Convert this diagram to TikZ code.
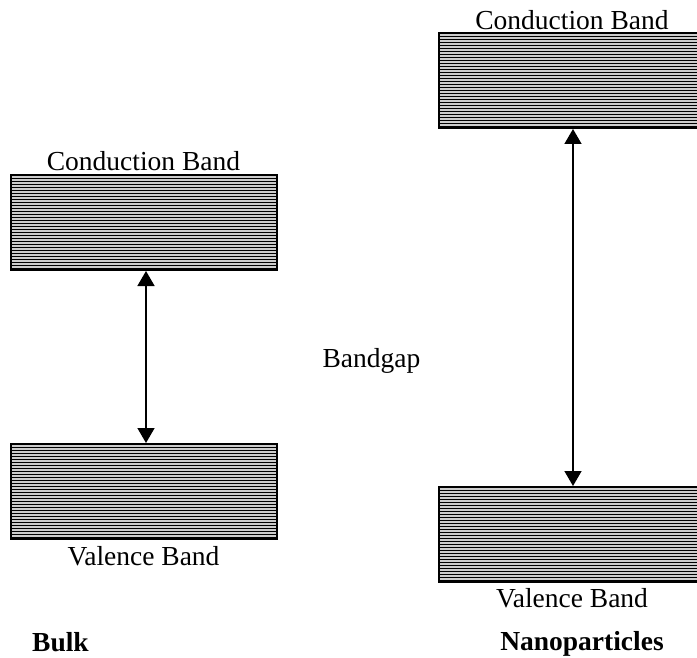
\documentclass[tikz,border=0pt]{standalone}
\usepackage{fontspec}
\setmainfont{Liberation Serif}
\usetikzlibrary{arrows.meta, positioning}

\begin{document}
\begin{tikzpicture}[x=1pt, y=-1pt, font=\fontsize{27.5}{33}\selectfont]
    \tikzstyle{band} = [rectangle, draw, line width=2pt, fill=gray!40, minimum width=266pt, minimum height=95pt, inner sep=0pt,
        path picture={\foreach \k in {1,...,31} {\draw[line width=0.9pt] ([yshift=-\k*3pt]path picture bounding box.north west) -- ([yshift=-\k*3pt]path picture bounding box.north east);}}]
    \tikzstyle{bandtext} = [inner sep=0pt]
    \tikzstyle{gap} = [draw, line width=1.5pt, {Triangle[length=15pt,width=17pt]}-{Triangle[length=15pt,width=17pt]}]

    \useasboundingbox (0,0) rectangle (697,658);

    \node [band] (cbBulk) at (143.5,222.5) {};
    \node [band] (vbBulk) at (143.5,491.5) {};
    \node [band] (cbNano) at (572,80.5) {};
    \node [band] (vbNano) at (572,534.5) {};

    \node [bandtext, above=3pt of cbBulk] (cbBulkText) {Conduction Band};
    \node [bandtext, below=6pt of vbBulk] (vbBulkText) {Valence Band};
    \node [bandtext, above=2pt of cbNano] (cbNanoText) {Conduction Band};
    \node [bandtext, below=5pt of vbNano] (vbNanoText) {Valence Band};

    \node [bandtext, anchor=base] (gapText) at (371.5,367) {Bandgap};
    \node [bandtext, anchor=base west] (bulk) at (32,651) {\bfseries Bulk};
    \node [bandtext, anchor=base] (nano) at (582,650) {\bfseries Nanoparticles};

    \path [gap] ([xshift=2.5pt]cbBulk.south) -- ([xshift=2.5pt]vbBulk.north);
    \path [gap] ([xshift=1pt]cbNano.south) -- ([xshift=1pt]vbNano.north);
\end{tikzpicture}
\end{document}
